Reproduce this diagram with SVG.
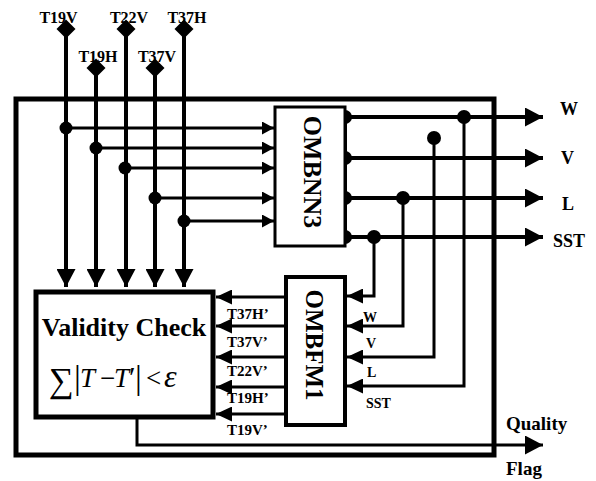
<svg xmlns="http://www.w3.org/2000/svg" width="596" height="481" viewBox="0 0 596 481">
<style>
text{font-family:"Liberation Serif","Times New Roman",serif;font-weight:bold;fill:#000}
.ln{stroke:#000;fill:none;stroke-linecap:butt;stroke-linejoin:miter}
.box{fill:#fff;stroke:#000}
.dot{fill:#000}
.m{font-weight:normal}
.i{font-style:italic;font-weight:normal}
</style>
<defs>
<marker id="aL" markerUnits="userSpaceOnUse" markerWidth="18" markerHeight="19" refX="18" refY="9.5" orient="auto"><path d="M0,0 L18,9.5 L0,19 z" fill="#000"/></marker>
<marker id="aM" markerUnits="userSpaceOnUse" markerWidth="16" markerHeight="15" refX="16" refY="7.5" orient="auto"><path d="M0,0 L16,7.5 L0,15 z" fill="#000"/></marker>
<marker id="aS" markerUnits="userSpaceOnUse" markerWidth="12" markerHeight="13" refX="12" refY="6.5" orient="auto"><path d="M0,0 L12,6.5 L0,13 z" fill="#000"/></marker>
</defs>
<rect x="0" y="0" width="596" height="481" fill="#fff"/>

<g id="outer"><rect x="16" y="99" width="478" height="356" fill="none" stroke="#000" stroke-width="5"/></g>

<g id="connectors">
  <path class="ln" stroke-width="4" d="M66,29 V287" marker-end="url(#aL)"/>
  <path class="ln" stroke-width="4" d="M96,68 V287" marker-end="url(#aL)"/>
  <path class="ln" stroke-width="4" d="M126,29 V287" marker-end="url(#aL)"/>
  <path class="ln" stroke-width="4" d="M155,68 V287" marker-end="url(#aL)"/>
  <path class="ln" stroke-width="4" d="M184,29 V287" marker-end="url(#aL)"/>
  <path class="ln" stroke-width="3" d="M66,128 H274" marker-end="url(#aS)"/>
  <path class="ln" stroke-width="3" d="M96,148 H274" marker-end="url(#aS)"/>
  <path class="ln" stroke-width="3" d="M126,168 H274" marker-end="url(#aS)"/>
  <path class="ln" stroke-width="3" d="M155,198 H274" marker-end="url(#aS)"/>
  <path class="ln" stroke-width="3" d="M184,221 H274" marker-end="url(#aS)"/>
  <circle class="dot" cx="66" cy="128" r="6.5"/>
  <circle class="dot" cx="96" cy="148" r="6.5"/>
  <circle class="dot" cx="125" cy="168" r="6.5"/>
  <circle class="dot" cx="155" cy="198" r="6.5"/>
  <circle class="dot" cx="184" cy="221" r="6.5"/>
  <path class="ln" stroke-width="4" d="M345,117 V237"/>
  <path class="ln" stroke-width="4" d="M345,117 H543" marker-end="url(#aL)"/>
  <path class="ln" stroke-width="4" d="M345,158 H543" marker-end="url(#aL)"/>
  <path class="ln" stroke-width="4" d="M345,198 H543" marker-end="url(#aL)"/>
  <path class="ln" stroke-width="4" d="M345,237 H543" marker-end="url(#aL)"/>
  <circle class="dot" cx="345" cy="117" r="7"/>
  <circle class="dot" cx="345" cy="158" r="7"/>
  <circle class="dot" cx="345" cy="198" r="7"/>
  <circle class="dot" cx="345" cy="237" r="7"/>
  <path class="ln" stroke-width="3" d="M374,237 V296 H347" marker-end="url(#aM)"/>
  <path class="ln" stroke-width="3" d="M403,198 V326 H347" marker-end="url(#aM)"/>
  <path class="ln" stroke-width="3" d="M434,138 V357 H347" marker-end="url(#aM)"/>
  <path class="ln" stroke-width="3" d="M464,117 V386 H347" marker-end="url(#aM)"/>
  <circle class="dot" cx="374" cy="237" r="7"/>
  <circle class="dot" cx="403" cy="198" r="7"/>
  <circle class="dot" cx="434" cy="138" r="7"/>
  <circle class="dot" cx="464" cy="117" r="7"/>
  <path class="ln" stroke-width="3" d="M286,297 H216" marker-end="url(#aM)"/>
  <path class="ln" stroke-width="3" d="M286,326 H216" marker-end="url(#aM)"/>
  <path class="ln" stroke-width="3" d="M286,357 H216" marker-end="url(#aM)"/>
  <path class="ln" stroke-width="3" d="M286,387 H216" marker-end="url(#aM)"/>
  <path class="ln" stroke-width="3" d="M286,414 H216" marker-end="url(#aM)"/>
  <path class="ln" stroke-width="3" d="M137,417 V445 H543" marker-end="url(#aL)"/>
</g>

<g id="inputs">
  <polygon points="66,19.5 75.5,29 66,38.5 56.5,29"/>
  <polygon points="96,58.5 105.5,68 96,77.5 86.5,68"/>
  <polygon points="126,19.5 135.5,29 126,38.5 116.5,29"/>
  <polygon points="155,58.5 164.5,68 155,77.5 145.5,68"/>
  <polygon points="184,19.5 193.5,29 184,38.5 174.5,29"/>
  <text x="58.5" y="23" font-size="16" text-anchor="middle">T19V</text>
  <text x="98" y="62" font-size="16" text-anchor="middle">T19H</text>
  <text x="129" y="23" font-size="16" text-anchor="middle">T22V</text>
  <text x="157" y="62" font-size="16" text-anchor="middle">T37V</text>
  <text x="187" y="23" font-size="16" text-anchor="middle">T37H</text>
</g>

<g id="ombnn3">
  <rect class="box" x="275" y="107" width="70" height="139" stroke-width="3"/>
  <text transform="translate(304,172) rotate(90)" font-size="26" text-anchor="middle">OMBNN3</text>
</g>

<g id="ombfm1">
  <rect class="box" x="286" y="277" width="59" height="148" stroke-width="4"/>
  <text transform="translate(306,345) rotate(90)" font-size="25" text-anchor="middle">OMBFM1</text>
</g>

<g id="validity">
  <rect class="box" x="36" y="292" width="177" height="125" stroke-width="5"/>
  <text x="124" y="336" font-size="26" text-anchor="middle">Validity Check</text>
  <text class="m" x="49" y="392" font-size="35">∑</text>
  <text class="m" x="74" y="389" font-size="34" font-weight="bold">|</text>
  <text class="i" x="80" y="387" font-size="27">T</text>
  <text class="m" x="100" y="387" font-size="27">−</text>
  <text class="i" x="114" y="387" font-size="27">T</text>
  <text class="m" x="129" y="387" font-size="30">′</text>
  <text class="m" x="135" y="389" font-size="34" font-weight="bold">|</text>
  <text class="m" x="146" y="387" font-size="27">&lt;</text>
  <text class="i" x="164" y="387" font-size="32">ε</text>
</g>

<g id="labels">
  <text x="227" y="319" font-size="15">T37H’</text>
  <text x="227" y="347" font-size="15">T37V’</text>
  <text x="227" y="376" font-size="15">T22V’</text>
  <text x="227" y="403" font-size="15">T19H’</text>
  <text x="227" y="435" font-size="15">T19V’</text>
  <text x="363" y="322" font-size="14">W</text>
  <text x="366" y="348" font-size="14">V</text>
  <text x="367" y="377" font-size="14">L</text>
  <text x="366" y="408" font-size="14">SST</text>
  <text x="560" y="115" font-size="18">W</text>
  <text x="561" y="164" font-size="18">V</text>
  <text x="562" y="210" font-size="18">L</text>
  <text x="553" y="247" font-size="18">SST</text>
  <text x="506" y="430" font-size="19">Quality</text>
  <text x="506" y="475" font-size="19">Flag</text>
</g>
</svg>
